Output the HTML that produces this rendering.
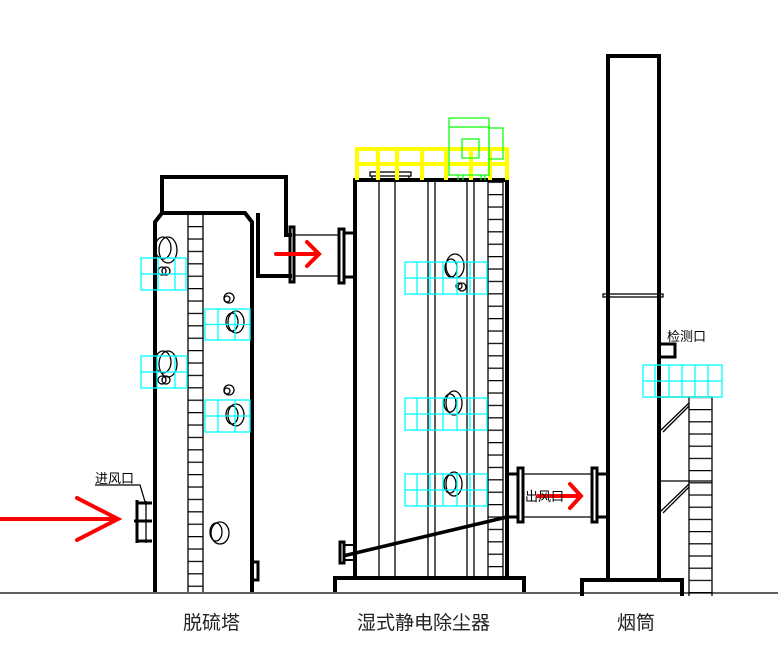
<!DOCTYPE html>
<html><head><meta charset="utf-8"><style>
html,body{margin:0;padding:0;background:#fff;width:778px;height:658px;overflow:hidden}
svg{display:block}
text{font-family:"Liberation Sans","Noto Sans CJK SC",sans-serif}
</style></head><body>
<svg width="778" height="658" viewBox="0 0 778 658" xmlns="http://www.w3.org/2000/svg">
<defs>
<pattern id="p1" patternUnits="userSpaceOnUse" x="0" y="226" width="20" height="12.4"><line x1="0" y1="0.6" x2="20" y2="0.6" stroke="#000" stroke-width="1.3"/></pattern>
<pattern id="p2" patternUnits="userSpaceOnUse" x="0" y="194" width="20" height="12.4"><line x1="0" y1="0.6" x2="20" y2="0.6" stroke="#000" stroke-width="1.3"/></pattern>
<pattern id="p3" patternUnits="userSpaceOnUse" x="0" y="409" width="30" height="12.2"><line x1="0" y1="0.6" x2="30" y2="0.6" stroke="#000" stroke-width="1.3"/></pattern>
</defs>
<rect x="188" y="214" width="15" height="378" fill="url(#p1)"/>
<rect x="488" y="182" width="15" height="396" fill="url(#p2)"/>
<rect x="689" y="398" width="23" height="198" fill="url(#p3)"/>
<g fill="none" stroke="#000" stroke-width="4" stroke-linejoin="miter">
<path d="M155,592 V222 L162,213 H245 L252,222 V592"/>
<path d="M162,213 V177 H286 V235 H292"/>
<path d="M258,213 V276 H292"/>
<rect x="290" y="227" width="4" height="55" stroke-width="3"/>
<rect x="339" y="229" width="5" height="54" stroke-width="3"/>
<path d="M344,233 H355 M344,277 H355" stroke-width="3"/>
<path d="M355,578 V180 H507 V578"/>
<path d="M335,592 V578 H524 V592"/>
<path d="M343,556 L507,517" stroke-width="3.5"/>
<rect x="340" y="542" width="4" height="21" stroke-width="3"/>
<path d="M344,545 H355 M344,560 H355" stroke-width="2"/>
<rect x="518" y="468" width="5" height="54" stroke-width="3"/>
<rect x="592" y="468" width="5" height="54" stroke-width="3"/>
<path d="M507,474 H518 M507,517 H518 M597,474 H608 M597,517 H608" stroke-width="3"/>
<path d="M608,580 V56 H659 V580"/>
<path d="M582,596 V580 H682 V596"/>
<path d="M659,344 H675 V357 H659" stroke-width="3"/>
<path d="M137,500 V543 M134,521 H152 M137,503 H152 M137,541 H152" stroke-width="3"/>
<path d="M252,562 V580 H258 V562 H252" stroke-width="3"/>
</g>
<g fill="none" stroke="#000" stroke-width="1.3">
<path d="M0,593 H778"/>
<path d="M188,213 V592 M203,213 V592"/>
<path d="M294,235 H339 M294,276 H339"/>
<path d="M379,180 V578 M395,180 V578 M428,180 V578 M435,180 V578 M467,180 V578 M474,180 V578 M488,180 V578 M503,180 V578"/>
<path d="M523,474 H592 M523,517 H592"/>
<path d="M689,397 V596 M712,397 V596 M659,397 H712 M659,481 H712"/>
<path d="M661,430 L689,403 M663,432 L689,406 M661,511 L689,484 M663,513 L689,487"/>
<rect x="603" y="294" width="60" height="3"/>
<rect x="370" y="172" width="41" height="4"/>
<path d="M372,176 V180 M409,176 V180"/>
<path d="M95,485 H140 L146,505"/>
<path d="M146,501 V543"/>
<ellipse cx="168" cy="250" rx="9" ry="13"/><ellipse cx="163" cy="248" rx="8" ry="11"/>
<circle cx="162" cy="271" r="4"/><circle cx="166" cy="271" r="4"/>
<ellipse cx="168" cy="364" rx="9" ry="13"/><ellipse cx="163" cy="362" rx="8" ry="11"/>
<circle cx="162" cy="380" r="4"/><circle cx="166" cy="380" r="4"/>
<circle cx="229" cy="298" r="5"/><circle cx="227" cy="299" r="3"/>
<ellipse cx="236" cy="322" rx="8" ry="11"/><ellipse cx="232" cy="322" rx="6" ry="9"/>
<circle cx="229" cy="390" r="5"/><circle cx="227" cy="391" r="3"/>
<ellipse cx="236" cy="415" rx="8" ry="11"/><ellipse cx="232" cy="415" rx="6" ry="9"/>
<ellipse cx="220" cy="533" rx="9" ry="11"/><ellipse cx="216" cy="532" rx="6" ry="9"/>
<ellipse cx="455" cy="266" rx="9" ry="12"/><ellipse cx="451" cy="268" rx="6" ry="9"/>
<circle cx="462" cy="287" r="4"/><circle cx="459" cy="286" r="3"/>
<ellipse cx="454" cy="403" rx="8" ry="12"/><ellipse cx="450" cy="403" rx="6" ry="9"/>
<ellipse cx="454" cy="484" rx="8" ry="12"/><ellipse cx="450" cy="484" rx="6" ry="9"/>
</g>
<g stroke="#ff0" stroke-width="4" fill="none">
<path d="M355,149 H509 M355,164 H509"/>
<path d="M357,147 V180 M378,147 V180 M397,147 V180 M422,147 V180 M446,147 V180 M471,147 V180 M490,147 V180 M507,147 V180"/>
</g>
<g stroke="#0f0" stroke-width="1.2" fill="none">
<rect x="449" y="118" width="40" height="57"/><path d="M449,127 H489"/>
<rect x="489" y="128" width="14" height="31"/>
<rect x="462" y="139" width="17" height="19"/>
<path d="M458,175 V180 M463,175 V180 M481,175 V180 M485,175 V180"/>
</g>
<g stroke="#0ff" stroke-width="1.3" fill="none">
<rect x="141" y="258" width="45" height="32"/><path d="M141,274 H186 M158,258 V290 M175,258 V290"/>
<rect x="141" y="356" width="46" height="32"/><path d="M141,372 H187 M157,356 V388 M175,356 V388"/>
<rect x="205" y="309" width="45" height="31"/><path d="M205,324.5 H250 M218,309 V340 M235,309 V340"/>
<rect x="205" y="400" width="45" height="32"/><path d="M205,416 H250 M218,400 V432 M235,400 V432"/>
<rect x="405" y="262" width="82" height="32"/><path d="M405,278 H487 M417,262 V294 M430,262 V294 M443,262 V294 M457,262 V294 M470,262 V294"/>
<rect x="405" y="398" width="82" height="32"/><path d="M405,414 H487 M417,398 V430 M430,398 V430 M443,398 V430 M457,398 V430 M470,398 V430"/>
<rect x="405" y="474" width="82" height="32"/><path d="M405,490 H487 M417,474 V506 M430,474 V506 M443,474 V506 M457,474 V506 M470,474 V506"/>
<rect x="643" y="365" width="79" height="32"/><path d="M643,381 H722 M655,365 V397 M669,365 V397 M682,365 V397 M695,365 V397 M708,365 V397"/>
</g>
<g stroke="#f00" stroke-width="4" fill="none" stroke-linecap="round">
<path d="M0,519 H118 M77,498 L118,519 L77,540"/>
<path d="M276,254 H318 M307,242 L319,254 L307,266"/>
<path d="M538,496 H580 M570,484 L581,496 L570,508"/>
</g>
<g font-size="13" fill="#000">
<text x="95" y="483">进风口</text>
<text x="525" y="501">出风口</text>
<text x="667" y="341">检测口</text>
</g>
<g font-size="19" fill="#222">
<text x="183" y="629">脱硫塔</text>
<text x="357" y="629">湿式静电除尘器</text>
<text x="617" y="629">烟筒</text>
</g>
</svg>
</body></html>
